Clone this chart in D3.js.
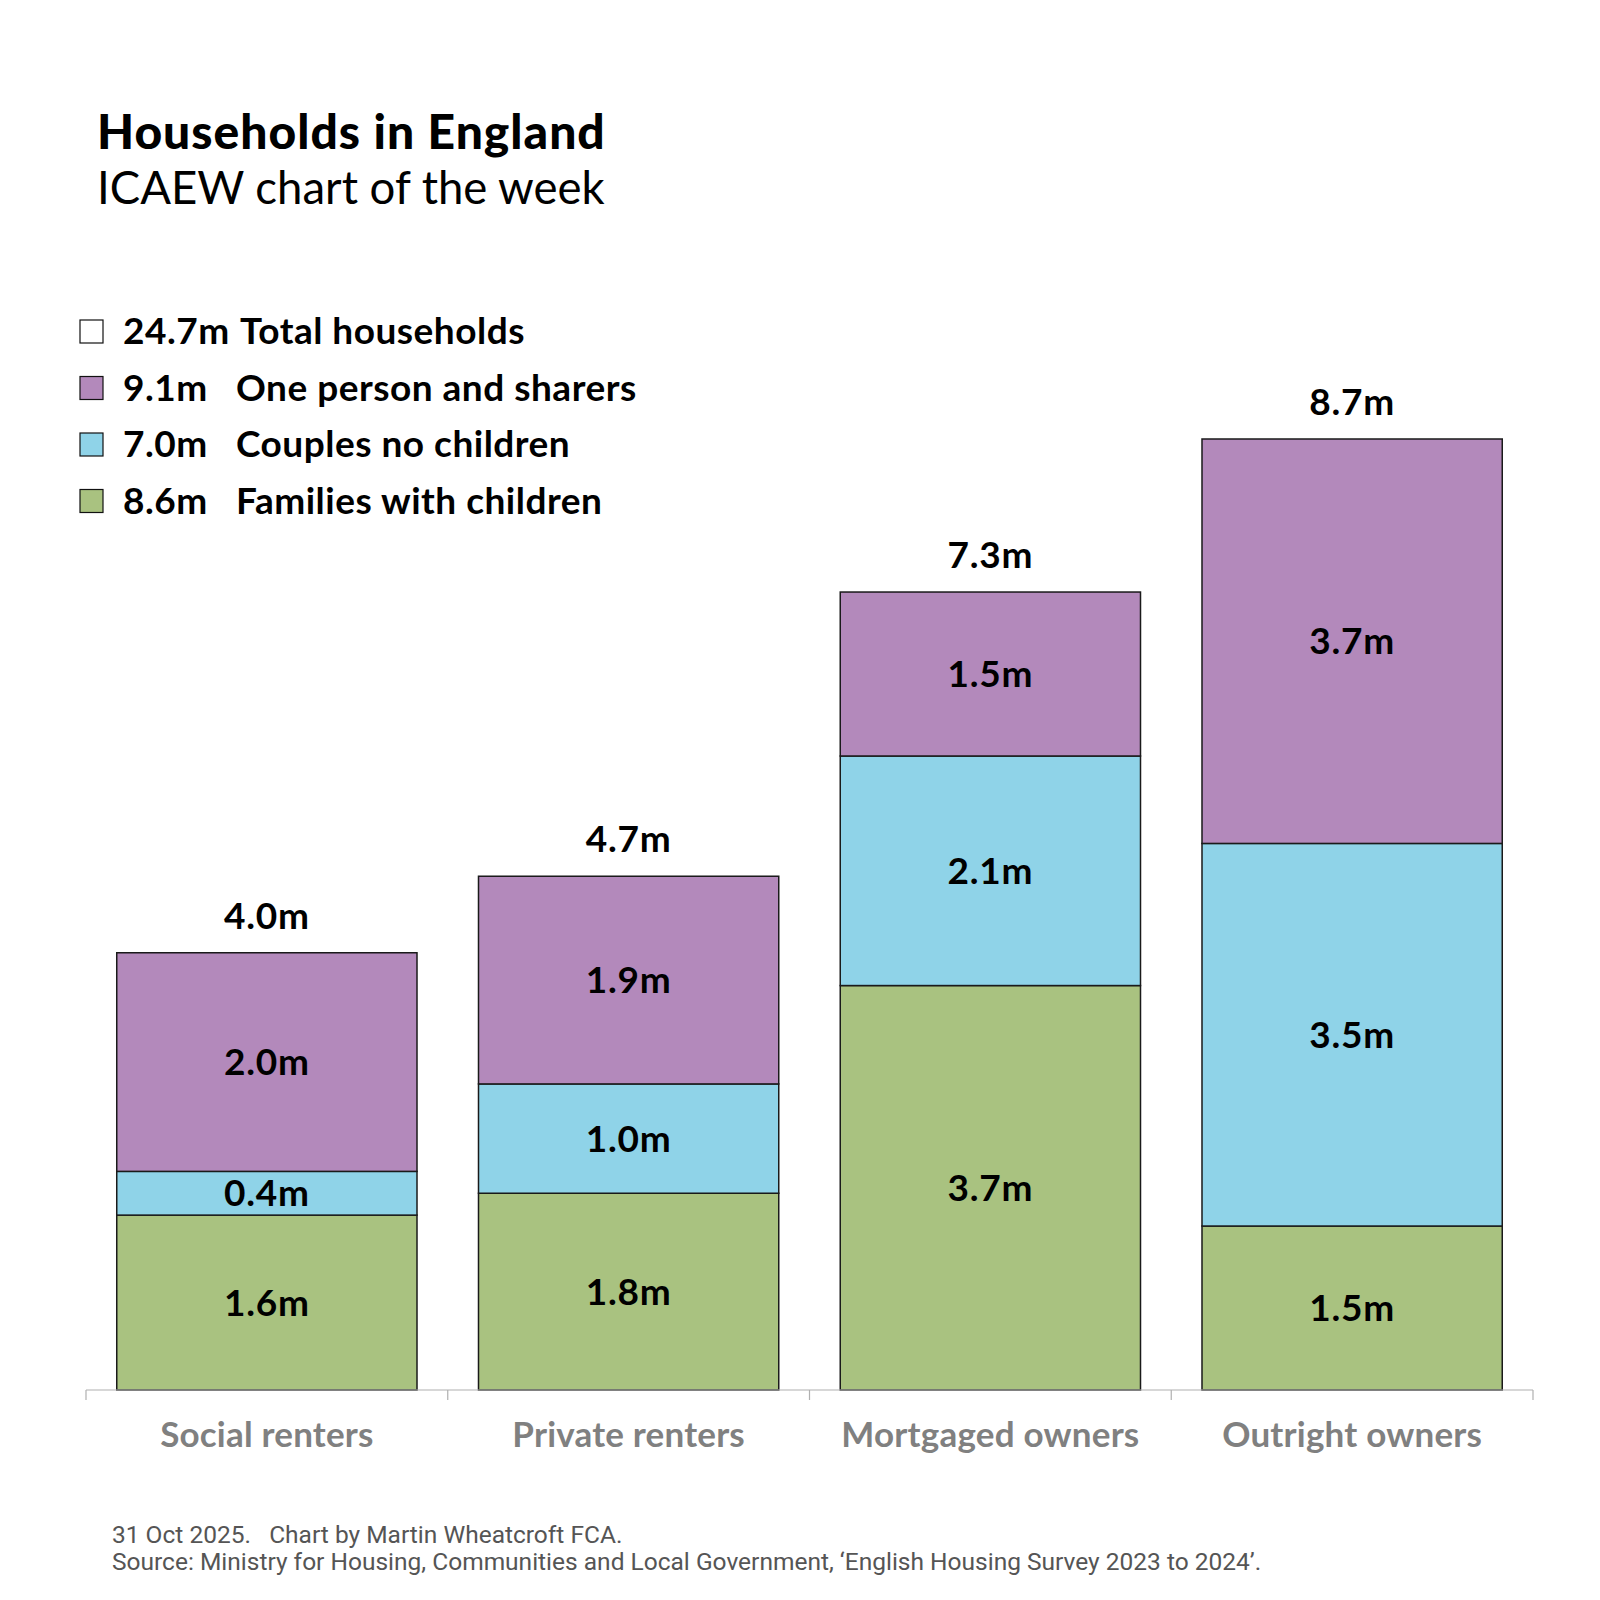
<!DOCTYPE html>
<html>
<head>
<meta charset="utf-8">
<script src="https://cdn.jsdelivr.net/npm/d3@7"></script>
<style>
  body { margin: 0; background: #fff; }
  svg { display: block; font-family: Lato, "Noto Sans", sans-serif; }
</style>
</head>
<body>
<svg width="1600" height="1600"></svg>
<script>
// chart data
const categories = ["Social renters", "Private renters", "Mortgaged owners", "Outright owners"];
const families = [1.6, 1.8, 3.7, 1.5];
const couples = [0.4, 1.0, 2.1, 3.5];
const singles = [2.0, 1.9, 1.5, 3.7];
const totals = [4.0, 4.7, 7.3, 8.7];

const legendValues = ["24.7m", "9.1m", "7.0m", "8.6m"];
const legendNames = ["Total households", "One person and sharers", "Couples no children", "Families with children"];
const seriesKeys = ["families", "couples", "singles"];

window.onload = () => {
  const svg = d3.select("svg");
  const colors = { families: "#a9c280", couples: "#8fd3e8", singles: "#b389bb" };
  const legendColors = ["#ffffff", colors.singles, colors.couples, colors.families];

  const table = categories.map((c, i) => ({
    cat: c, families: families[i], couples: couples[i], singles: singles[i], total: totals[i]
  }));

  const baseY = 1390;
  const x = d3.scaleBand().domain(categories).range([86, 1533])
    .paddingInner(0.17).paddingOuter(0.085);
  const y = d3.scaleLinear().domain([0, 8.7]).range([baseY, 439]);

  // title
  svg.append("text").attr("x", 97).attr("y", 149)
    .attr("font-size", 48).attr("font-weight", 900).attr("letter-spacing", 1)
    .text("Households in England");
  svg.append("text").attr("x", 97).attr("y", 204)
    .attr("font-size", 45.5).attr("font-weight", 400)
    .text("ICAEW chart of the week");

  // legend
  const leg = svg.append("g").attr("font-size", 37).attr("font-weight", 700).attr("letter-spacing", 0.5);
  legendNames.forEach((n, i) => {
    const cy = 331 + i * 56.5;
    leg.append("rect").attr("x", 80).attr("y", cy - 11).attr("width", 23).attr("height", 23)
      .attr("fill", legendColors[i]).attr("stroke", "#111").attr("stroke-width", 1.2);
    leg.append("text").attr("x", 123).attr("y", cy + 13).text(legendValues[i]);
    leg.append("text").attr("x", i === 0 ? 240 : 236).attr("y", cy + 13).text(n);
  });

  // stacked bars
  const stack = d3.stack().keys(seriesKeys)(table);
  const g = svg.append("g");
  stack.forEach(layer => {
    g.selectAll(null).data(layer).enter().append("rect")
      .attr("x", d => x(d.data.cat))
      .attr("y", d => y(d[1]))
      .attr("width", x.bandwidth())
      .attr("height", d => y(d[0]) - y(d[1]))
      .attr("fill", colors[layer.key])
      .attr("stroke", "#1a1a1a").attr("stroke-width", 1.5);
    g.selectAll(null).data(layer).enter().append("text")
      .attr("x", d => x(d.data.cat) + x.bandwidth() / 2)
      .attr("y", d => (y(d[0]) + y(d[1])) / 2 + 13)
      .attr("text-anchor", "middle")
      .attr("font-size", 37).attr("font-weight", 700).attr("letter-spacing", 0.8)
      .text(d => d3.format(".1f")(d[1] - d[0]) + "m");
  });

  // totals above bars
  g.selectAll(null).data(table).enter().append("text")
    .attr("x", d => x(d.cat) + x.bandwidth() / 2)
    .attr("y", d => y(d.total) - 24)
    .attr("text-anchor", "middle")
    .attr("font-size", 37).attr("font-weight", 700).attr("letter-spacing", 0.8)
    .text(d => d3.format(".1f")(d.total) + "m");

  // x axis: baseline with ticks at band boundaries
  const ax = svg.append("g");
  ax.append("line").attr("x1", 86).attr("x2", 1533).attr("y1", baseY).attr("y2", baseY)
    .attr("stroke", "#b0b0b0").attr("stroke-width", 1.2);
  const bounds = categories.map(c => x(c) - x.step() * x.paddingInner() / 2);
  bounds.push(1533);
  bounds[0] = 86;
  ax.selectAll(null).data(bounds).enter().append("line")
    .attr("x1", d => d).attr("x2", d => d).attr("y1", baseY).attr("y2", baseY + 10)
    .attr("stroke", "#b0b0b0").attr("stroke-width", 1.2);

  const xAxis = d3.axisBottom(x).tickSize(0).tickPadding(0);
  const xAxisG = svg.append("g").attr("transform", `translate(0,${baseY})`).call(xAxis);
  xAxisG.select(".domain").remove();
  xAxisG.selectAll("text")
    .attr("y", 57).attr("dy", 0)
    .attr("font-family", "Lato, 'Noto Sans', sans-serif")
    .attr("font-size", 35).attr("font-weight", 700).attr("fill", "#808080")
    .attr("letter-spacing", 0.2);

  // footer
  const foot = svg.append("g").attr("font-family", "'Liberation Sans Narrow', 'Roboto', sans-serif")
    .attr("font-size", 24.5).attr("fill", "#555");
  foot.append("text").attr("x", 112).attr("y", 1543).attr("xml:space", "preserve")
    .text("31 Oct 2025.   Chart by Martin Wheatcroft FCA.");
  foot.append("text").attr("x", 112).attr("y", 1570)
    .text("Source: Ministry for Housing, Communities and Local Government, \u2018English Housing Survey 2023 to 2024\u2019.");
};
</script>
</body>
</html>
